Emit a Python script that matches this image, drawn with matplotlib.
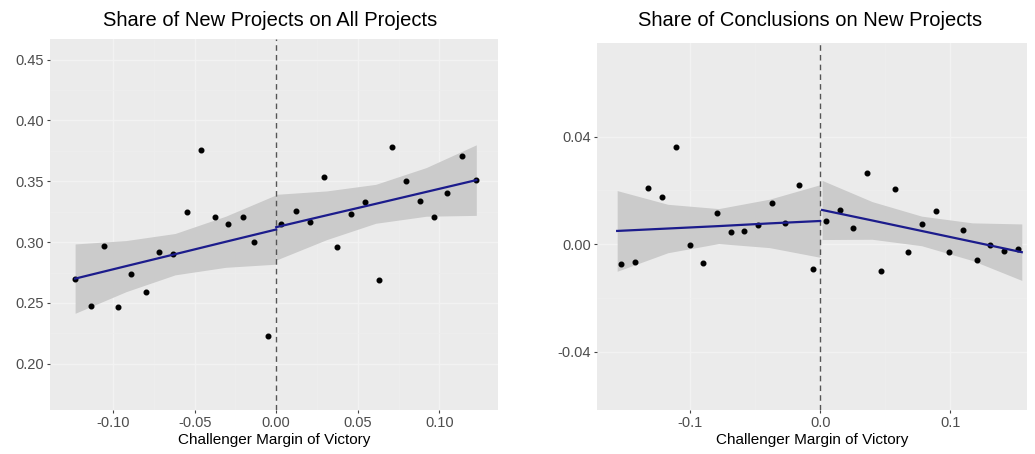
from matplotlib import pyplot as plt
import numpy as np

plt.rcParams['font.family'] = ['Liberation Sans', 'DejaVu Sans']

# ---- Panel 1: Share of New Projects on All Projects ----
p1_x = [-0.1233, -0.1135, -0.1055, -0.0969, -0.0890, -0.0798, -0.0718, -0.0632,
        -0.0546, -0.0460, -0.0374, -0.0294, -0.0202, -0.0135, -0.0050,
        0.0030, 0.0123, 0.0210, 0.0294, 0.0374, 0.0460, 0.0546, 0.0630,
        0.0712, 0.0798, 0.0883, 0.0970, 0.1050, 0.1140, 0.1227]
p1_y = [0.2697, 0.2475, 0.2967, 0.2467, 0.2738, 0.2590, 0.2918, 0.2900,
        0.3246, 0.3760, 0.3205, 0.3148, 0.3205, 0.3000, 0.2230,
        0.3150, 0.3254, 0.3164, 0.3533, 0.2960, 0.3230, 0.3328, 0.2689,
        0.3779, 0.3500, 0.3336, 0.3205, 0.3400, 0.3705, 0.3508]

# fitted lines and confidence bands (left / right of cutoff)
p1_fitL_x = [-0.1233, -0.092, -0.062, -0.031, 0.0]
p1_fitL_y = [0.2700, 0.2803, 0.2901, 0.3003, 0.3104]
p1_fitL_lo = [0.2415, 0.2593, 0.2731, 0.2793, 0.2819]
p1_fitL_hi = [0.2985, 0.3013, 0.3071, 0.3213, 0.3389]
p1_fitR_x = [0.0, 0.031, 0.061, 0.092, 0.1227]
p1_fitR_y = [0.3123, 0.3221, 0.3315, 0.3413, 0.3510]
p1_fitR_lo = [0.2853, 0.3021, 0.3155, 0.3213, 0.3220]
p1_fitR_hi = [0.3393, 0.3421, 0.3475, 0.3613, 0.3800]

# ---- Panel 2: Share of Conclusions on New Projects ----
p2_x = [-0.1531, -0.1423, -0.1323, -0.1215, -0.1108, -0.1000, -0.0900, -0.0792,
        -0.0685, -0.0585, -0.0477, -0.0369, -0.0269, -0.0162, -0.0054,
        0.0046, 0.0154, 0.0254, 0.0362, 0.0469, 0.0577, 0.0677, 0.0785,
        0.0892, 0.0992, 0.1100, 0.1208, 0.1308, 0.1415, 0.1523]
p2_y = [-0.0075, -0.0067, 0.0209, 0.0176, 0.0363, -0.0004, -0.0071, 0.0116,
        0.0045, 0.0049, 0.0071, 0.0153, 0.0078, 0.0221, -0.0093,
        0.0086, 0.0127, 0.0060, 0.0265, -0.0101, 0.0206, -0.0030, 0.0075,
        0.0123, -0.0030, 0.0052, -0.0060, -0.0004, -0.0026, -0.0019]

p2_fitL_x = [-0.156, -0.117, -0.078, -0.039, 0.0]
p2_fitL_y = [0.0049, 0.0058, 0.0067, 0.0077, 0.0086]
p2_fitL_lo = [-0.0101, -0.0032, 0.0002, -0.0013, -0.0049]
p2_fitL_hi = [0.0199, 0.0148, 0.0132, 0.0167, 0.0221]
p2_fitR_x = [0.0015, 0.040, 0.078, 0.117, 0.155]
p2_fitR_y = [0.0127, 0.0088, 0.0049, 0.0009, -0.0030]
p2_fitR_lo = [0.0017, 0.0018, -0.0006, -0.0061, -0.0135]
p2_fitR_hi = [0.0237, 0.0158, 0.0104, 0.0079, 0.0075]

titles = ['Share of New Projects on All Projects', 'Share of Conclusions on New Projects']
xlabel = 'Challenger Margin of Victory'

p1_xticks = [-0.10, -0.05, 0.00, 0.05, 0.10]
p1_yticks = [0.20, 0.25, 0.30, 0.35, 0.40, 0.45]
p2_xticks = [-0.1, 0.0, 0.1]
p2_yticks = [-0.04, 0.00, 0.04]

bg = '#EBEBEB'
line_col = '#1c1c8c'
band_col = '#CBCBCB'

fig = plt.figure(figsize=(10.35, 4.54), dpi=100)
ax1 = fig.add_axes([50/1035, 1-410/454, 448/1035, 371/454])
ax2 = fig.add_axes([597/1035, 1-410/454, 430/1035, 367/454])


def style_axis(ax, xticks, yticks, xlim, ylim, xfmt, yfmt, title, title_x):
    ax.set_facecolor(bg)
    for s in ax.spines.values():
        s.set_visible(False)
    ax.set_xlim(xlim)
    ax.set_ylim(ylim)
    ax.set_xticks(xticks)
    ax.set_yticks(yticks)
    ax.set_xticklabels([xfmt.format(v) for v in xticks])
    ax.set_yticklabels([yfmt.format(v) for v in yticks])
    xs = np.array(xticks)
    ys = np.array(yticks)
    ax.set_xticks((xs[:-1] + xs[1:]) / 2, minor=True)
    ax.set_yticks((ys[:-1] + ys[1:]) / 2, minor=True)
    ax.grid(True, which='major', color='#F2F2F2', linewidth=1.0, zorder=0)
    ax.grid(True, which='minor', color='#EEEEEE', linewidth=0.5, zorder=0)
    ax.set_axisbelow(True)
    ax.tick_params(which='major', length=2.5, width=0.8, color='#444444',
                   labelsize=10.5, labelcolor='#4D4D4D', pad=2)
    ax.tick_params(which='minor', length=0)
    ax.set_xlabel(xlabel, fontsize=11, color='black', labelpad=2)
    fig.text(title_x, 1-20/454, title, ha='center', va='center', fontsize=14.5)


def draw_panel(ax, x, y, fits):
    for fx, fy, lo, hi in fits:
        ax.fill_between(fx, lo, hi, color=band_col, linewidth=0, zorder=1)
    ax.scatter(x, y, s=11, color='black', zorder=3)
    for fx, fy, lo, hi in fits:
        ax.plot(fx, fy, color=line_col, linewidth=1.6, zorder=4)
    ax.axvline(0, color='#555555', linestyle=(0, (4, 3)), linewidth=1.0, zorder=2)


draw_panel(ax1, p1_x, p1_y, [(p1_fitL_x, p1_fitL_y, p1_fitL_lo, p1_fitL_hi),
                             (p1_fitR_x, p1_fitR_y, p1_fitR_lo, p1_fitR_hi)])
draw_panel(ax2, p2_x, p2_y, [(p2_fitL_x, p2_fitL_y, p2_fitL_lo, p2_fitL_hi),
                             (p2_fitR_x, p2_fitR_y, p2_fitR_lo, p2_fitR_hi)])

style_axis(ax1, p1_xticks, p1_yticks, (-0.1387, 0.136), (0.162, 0.467),
           '{:.2f}', '{:.2f}', titles[0], 270/1035)
style_axis(ax2, p2_xticks, p2_yticks, (-0.1715, 0.159), (-0.0617, 0.0748),
           '{:.1f}', '{:.2f}', titles[1], 810/1035)

fig.savefig('out.png', dpi=100, facecolor='white')
